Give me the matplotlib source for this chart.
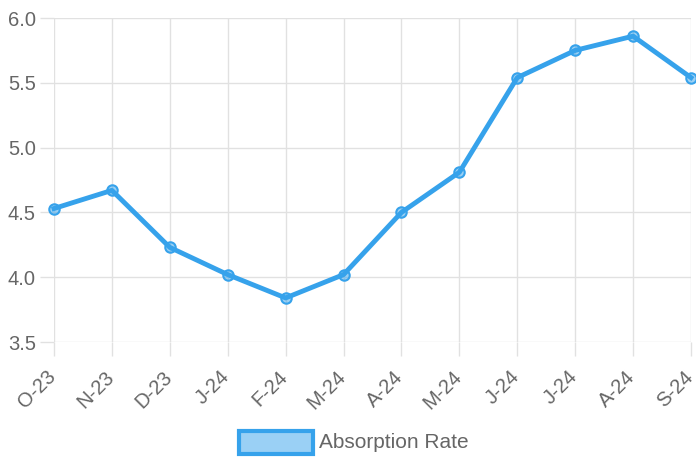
import numpy as np
import matplotlib.pyplot as plt
import matplotlib.transforms as mtransforms
from matplotlib.patches import Rectangle

plt.rcParams['font.family'] = ['Liberation Sans', 'DejaVu Sans']

months = ['O-23', 'N-23', 'D-23', 'J-24', 'F-24', 'M-24',
          'A-24', 'M-24', 'J-24', 'J-24', 'A-24', 'S-24']
absorption_rate = [4.53, 4.67, 4.23, 4.02, 3.84, 4.02,
                   4.50, 4.81, 5.54, 5.75, 5.86, 5.54]

line_color = '#36a2eb'
grid_color = '#e1e1e1'
text_color = '#666666'

fig = plt.figure(figsize=(6.96, 4.57), dpi=100)
ax = fig.add_axes([54 / 696, 1 - 342 / 457, 637 / 696, 324 / 457])

x = np.arange(len(months))
ax.plot(x, absorption_rate, color=line_color, lw=3.5, marker='o', ms=7.5,
        mfc=(0.21, 0.64, 0.92, 0.5), mec=line_color, mew=1.5,
        solid_joinstyle='round', zorder=3, clip_on=False)

ax.set_xlim(0, len(months) - 1)
ax.set_ylim(3.5, 6.0)
yt = np.arange(3.5, 6.01, 0.5)
ax.set_yticks(yt)
ax.set_yticklabels([f'{v:.1f}' for v in yt])
ax.set_xticks(x)
ax.set_xticklabels(months, rotation=45, ha='right', va='center',
                   rotation_mode='anchor')

ax.grid(True, color=grid_color, lw=1)
for s in ax.spines.values():
    s.set_visible(False)
ax.tick_params(axis='both', colors=grid_color, labelcolor=text_color,
               labelsize=14.5, length=10, width=1)
ax.tick_params(axis='x', pad=13)
ax.tick_params(axis='y', pad=3)

# nudge x labels a little to the left so the last one fits
shift = mtransforms.ScaledTranslation(-1 / 100, 0, fig.dpi_scale_trans)
for lbl in ax.get_xticklabels():
    lbl.set_transform(lbl.get_transform() + shift)

# legend
fig.patches.append(Rectangle((239 / 696, 1 - 454 / 457), 74 / 696, 23 / 457,
                             transform=fig.transFigure, facecolor='#9ad0f5',
                             edgecolor=line_color, lw=3))
fig.text(319 / 696, 1 - 442 / 457, 'Absorption Rate', color=text_color,
         fontsize=15, va='center', ha='left')

plt.savefig('out.png', dpi=100)
